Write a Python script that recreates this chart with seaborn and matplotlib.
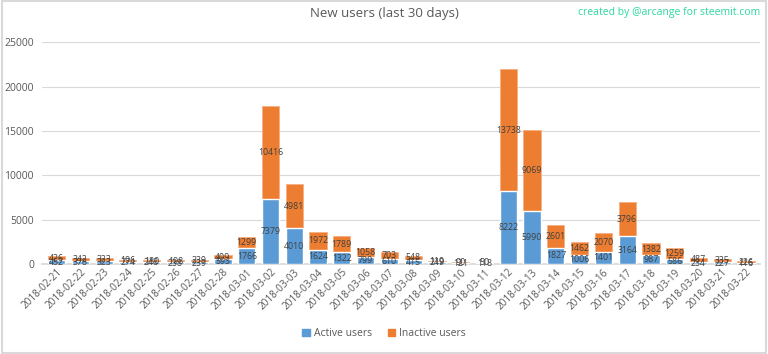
import numpy as np
import pandas as pd
import matplotlib.pyplot as plt
import seaborn as sns

dates = ["2018-02-21", "2018-02-22", "2018-02-23", "2018-02-24", "2018-02-25",
         "2018-02-26", "2018-02-27", "2018-02-28", "2018-03-01", "2018-03-02",
         "2018-03-03", "2018-03-04", "2018-03-05", "2018-03-06", "2018-03-07",
         "2018-03-08", "2018-03-09", "2018-03-10", "2018-03-11", "2018-03-12",
         "2018-03-13", "2018-03-14", "2018-03-15", "2018-03-16", "2018-03-17",
         "2018-03-18", "2018-03-19", "2018-03-20", "2018-03-21", "2018-03-22"]
active = [452, 378, 323, 274, 248, 238, 239, 593, 1766, 7379,
          4010, 1624, 1322, 799, 610, 415, 249, 121, 118, 8222,
          5990, 1827, 1006, 1401, 3164, 987, 586, 234, 227, 116]
inactive = [426, 342, 323, 196, 180, 198, 239, 409, 1299, 10416,
            4981, 1972, 1789, 1058, 703, 548, 119, 90, 50, 13738,
            9069, 2601, 1462, 2070, 3796, 1382, 1259, 487, 335, 226]

df = pd.DataFrame({"date": dates, "active": active, "inactive": inactive})
df["total"] = df["active"] + df["inactive"]

blue = "#5B9BD5"
orange = "#ED7D31"
txt = "#595959"

sns.set_theme(style="white")
plt.rcParams["font.family"] = ["Open Sans", "DejaVu Sans"]

fig = plt.figure(figsize=(7.68, 3.54), dpi=100)
ax = fig.add_axes([0.055, 0.254, 0.935, 0.627])

sns.barplot(data=df, x="date", y="total", color=orange, width=0.72,
            saturation=1, ax=ax, label="Inactive users", zorder=2,
            edgecolor="#F4B183", linewidth=0.6)
sns.barplot(data=df, x="date", y="active", color=blue, width=0.72,
            saturation=1, ax=ax, label="Active users", zorder=3)
if ax.get_legend() is not None:
    ax.get_legend().remove()

for i, row in df.iterrows():
    ax.text(i, row["active"] / 2, str(row["active"]), ha="center", va="center",
            fontsize=6.3, color="#404040", zorder=4)
    ax.text(i, row["active"] + row["inactive"] / 2, str(row["inactive"]),
            ha="center", va="center", fontsize=6.3, color="#404040", zorder=4)

ax.set_ylim(0, 25000)
ax.set_yticks(np.arange(0, 25001, 5000))
ax.set_xlim(-0.6, len(dates) - 0.4)
ax.yaxis.grid(True, color="#D9D9D9", linewidth=0.8, zorder=0)
ax.set_axisbelow(True)
for s in ["top", "right", "left"]:
    ax.spines[s].set_visible(False)
ax.spines["bottom"].set_color("#D9D9D9")
ax.set_xlabel("")
ax.set_ylabel("")
ax.tick_params(axis="y", labelsize=7.5, colors=txt, length=0, pad=6)
ax.tick_params(axis="x", labelsize=7.2, colors=txt, length=0, pad=2)
plt.setp(ax.get_xticklabels(), rotation=45, ha="right", rotation_mode="anchor")

handles = [plt.Rectangle((0, 0), 1, 1, color=blue),
           plt.Rectangle((0, 0), 1, 1, color=orange)]
fig.legend(handles, ["Active users", "Inactive users"],
           loc="center", bbox_to_anchor=(0.5, 0.057), ncol=2, frameon=False,
           fontsize=7.5, labelcolor=txt, handlelength=0.7, handleheight=0.7,
           columnspacing=1.5, handletextpad=0.4)

fig.text(0.5, 0.963, "New users (last 30 days)", ha="center", va="center",
         fontsize=9.5, color=txt)
fig.text(0.99, 0.965, "created by @arcange for steemit.com", ha="right",
         va="center", fontsize=7.5, color="#2BD9A0")

border = plt.Rectangle((0.002, 0.003), 0.996, 0.994, transform=fig.transFigure,
                       fill=False, edgecolor="#D9D9D9", linewidth=1.5)
fig.patches.append(border)

fig.savefig("out.png", dpi=100)
